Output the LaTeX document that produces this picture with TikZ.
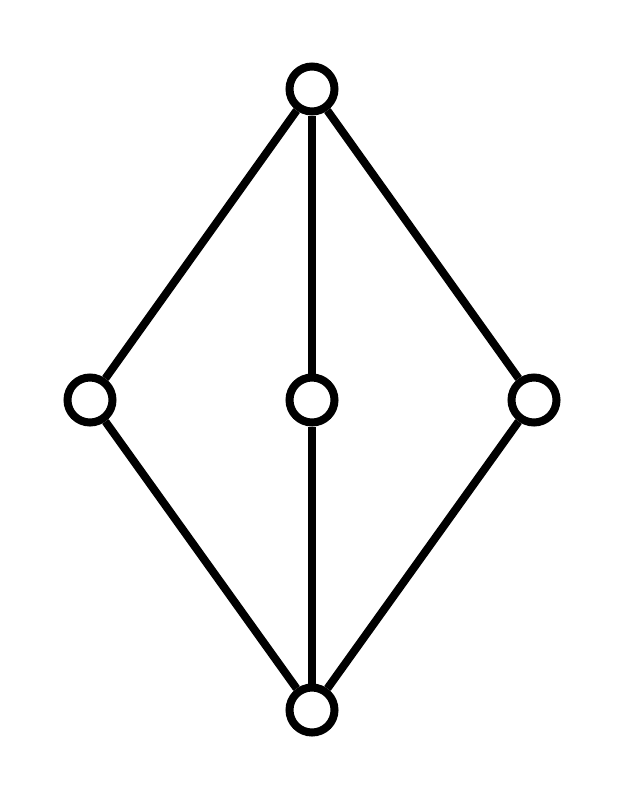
\documentclass[tikz,border=0pt]{standalone}
\begin{document}
\begin{tikzpicture}[x=1pt,y=-1pt,
  vert/.style={circle,draw=black,fill=white,line width=8pt,minimum size=45pt,inner sep=0pt},
  edge/.style={line width=8pt,black}]
\useasboundingbox (0,0) rectangle (622,800);
\node[vert] (t) at (312,89) {};
\node[vert] (l) at (90,400) {};
\node[vert] (m) at (312,400) {};
\node[vert] (r) at (534,400) {};
\node[vert] (b) at (312,710) {};
\draw[edge] (t) -- (l);
\draw[edge] (t) -- (m);
\draw[edge] (t) -- (r);
\draw[edge] (l) -- (b);
\draw[edge] (m) -- (b);
\draw[edge] (r) -- (b);
\end{tikzpicture}
\end{document}
